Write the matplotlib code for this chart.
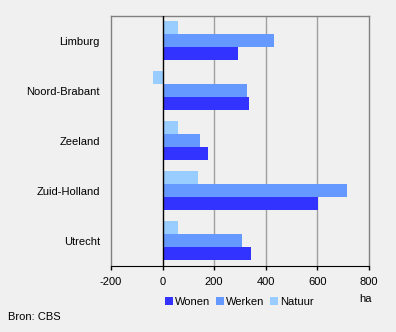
import matplotlib
matplotlib.use("Agg")
import matplotlib.pyplot as plt
import numpy as np

# --- data (ha) ---
provinces = ["Limburg", "Noord-Brabant", "Zeeland", "Zuid-Holland", "Utrecht"]
wonen = [294, 336, 177, 604, 344]
werken = [433, 328, 146, 713, 309]
natuur = [60, -37, 60, 138, 60]
series_names = ["Wonen", "Werken", "Natuur"]
colors = ["#3333ff", "#6699ff", "#99ccff"]
xticks = [-200, 0, 200, 400, 600, 800]

plt.rcParams["font.family"] = ["Liberation Sans", "DejaVu Sans"]
bg = "#f0f0f0"
fs = 8

fig = plt.figure(figsize=(3.96, 3.32), dpi=100, facecolor=bg)
ax = fig.add_axes([0.280, 0.199, 0.652, 0.753], facecolor=bg)

n = len(provinces)
ypos = np.arange(n)[::-1]  # Limburg at top
h = 0.26
for i, (vals, col, name) in enumerate(zip([wonen, werken, natuur], colors, series_names)):
    offs = (-1 + i) * h
    ax.barh(ypos + offs, vals, height=h, color=col, label=name, zorder=3)

ax.set_xlim(-200, 800)
ax.set_ylim(-0.5, n - 0.5)
ax.set_xticks(xticks)
ax.set_xticklabels([str(v) for v in xticks], fontsize=fs)
ax.set_yticks(ypos)
ax.set_yticklabels(provinces, fontsize=fs)
ax.tick_params(axis="y", length=0, pad=8)
ax.tick_params(axis="x", length=3, width=1, color="black", pad=5)

for v in [200, 400, 600]:
    ax.axvline(v, color="#a0a0a0", lw=1, zorder=1)
ax.axvline(0, color="black", lw=1, zorder=4)

for s in ["left", "right", "top"]:
    ax.spines[s].set_color("#808080")
    ax.spines[s].set_linewidth(1)
ax.spines["bottom"].set_color("black")

fig.legend(loc="center", bbox_to_anchor=(0.604, 0.090), ncol=3, fontsize=fs,
           frameon=False, handlelength=0.7, handleheight=0.7, handletextpad=0.2,
           columnspacing=0.5, borderaxespad=0.0, borderpad=0.0)

fig.text(366 / 396, 1 - 299 / 332, "ha", fontsize=fs, ha="center", va="center")
fig.text(8 / 396, 1 - 317 / 332, "Bron: CBS", fontsize=fs, ha="left", va="center")

fig.savefig("out.png", dpi=100, facecolor=bg)
